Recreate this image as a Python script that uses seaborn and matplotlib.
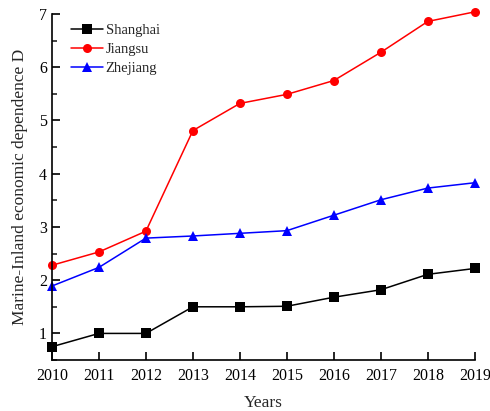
import matplotlib
matplotlib.use("Agg")
import matplotlib.pyplot as plt
import seaborn as sns
import pandas as pd
from matplotlib.ticker import MultipleLocator

years = [2010, 2011, 2012, 2013, 2014, 2015, 2016, 2017, 2018, 2019]
shanghai = [0.75, 1.0, 1.0, 1.5, 1.5, 1.51, 1.68, 1.82, 2.11, 2.22]
jiangsu = [2.28, 2.53, 2.92, 4.81, 5.32, 5.49, 5.75, 6.28, 6.86, 7.04]
zhejiang = [1.89, 2.24, 2.79, 2.83, 2.88, 2.93, 3.22, 3.51, 3.73, 3.83]
series_names = ["Shanghai", "Jiangsu", "Zhejiang"]

df = pd.concat([
    pd.DataFrame({"Year": years, "D": vals, "Region": name})
    for name, vals in zip(series_names, [shanghai, jiangsu, zhejiang])
])

sns.set_style("ticks")
plt.rcParams['font.family'] = ['Liberation Serif', 'DejaVu Serif']

fig = plt.figure(figsize=(4.9, 4.11), dpi=100)
ax = fig.add_axes([0.106, 0.124, 0.863, 0.842])

palette = {"Shanghai": "black", "Jiangsu": "red", "Zhejiang": "blue"}
markers = {"Shanghai": "s", "Jiangsu": "o", "Zhejiang": "^"}
sns.lineplot(data=df, x="Year", y="D", hue="Region", style="Region",
             palette=palette, markers=markers, dashes=False,
             markersize=6.5, markeredgewidth=0, linewidth=1.1, ax=ax)
for ln in ax.lines:
    ln.set_clip_on(False)

ax.set_xlim(2010, 2019)
ax.set_ylim(0.5, 7)
ax.set_xticks(years)
ax.set_xticklabels([str(y) for y in years])
ax.yaxis.set_major_locator(MultipleLocator(1))
ax.yaxis.set_minor_locator(MultipleLocator(0.5))
ax.tick_params(axis='both', which='major', direction='in', length=6, width=1.2,
               labelsize=11.5, colors='black')
ax.tick_params(axis='y', which='minor', direction='in', length=3.5, width=1.2)
ax.tick_params(axis='x', which='major', pad=6)
for s in ["top", "right"]:
    ax.spines[s].set_visible(False)
for s in ["left", "bottom"]:
    ax.spines[s].set_linewidth(1.2)
    ax.spines[s].set_color('black')

ax.set_xlabel("Years", fontsize=12.5, labelpad=8)
ax.set_ylabel("Marine-Inland economic dependence D", fontsize=12.5, labelpad=8)

leg = ax.legend(loc="upper left", frameon=False, fontsize=10.5, handlelength=2.2,
                handletextpad=0.2, borderaxespad=0.3, labelspacing=0.4,
                bbox_to_anchor=(0.02, 1.0))
for h in leg.get_lines():
    h.set_markersize(6.5)
fig.savefig("out.png", dpi=100)
